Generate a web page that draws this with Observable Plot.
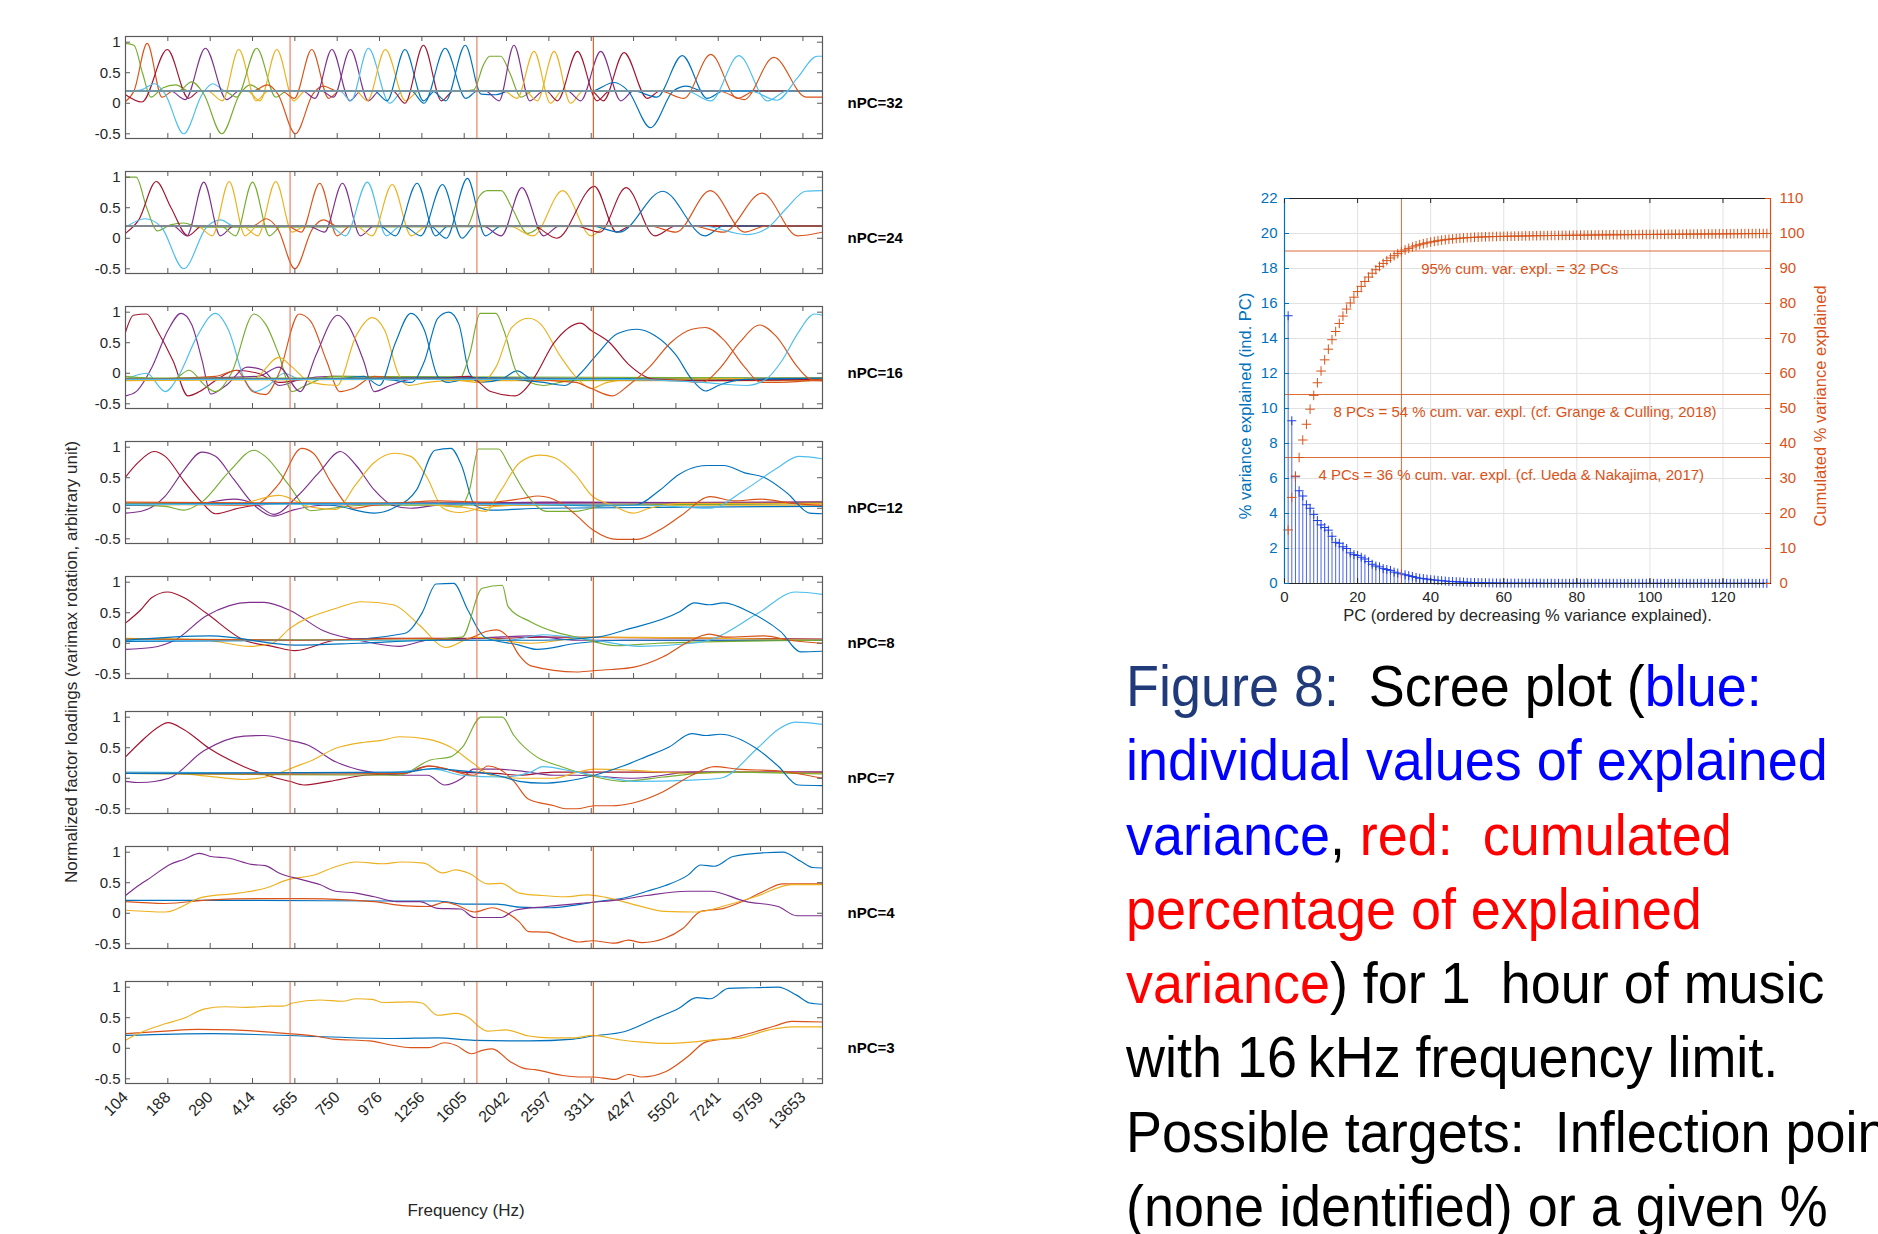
<!DOCTYPE html>
<html><head><meta charset="utf-8">
<script src="https://cdn.jsdelivr.net/npm/d3@7"></script>
<script src="https://cdn.jsdelivr.net/npm/@observablehq/plot@0.6"></script>
<style>
html,body{margin:0;padding:0;background:#fff;}
#root{position:relative;width:1878px;height:1234px;overflow:hidden;background:#fff;font-family:"Liberation Sans",Arial,sans-serif;color:#262626;}
#cap{position:absolute;left:1126px;top:649px;font-size:58px;line-height:74.3px;transform:scaleX(0.93);transform-origin:0 0;white-space:nowrap;color:#000;}
.nv{color:#213b7a}.bl{color:#0000ff}.rd{color:#ff0000}
</style></head><body><div id="root"></div>
<script>
// ---------------- data: left panels ----------------
const freqLabels = ["104","188","290","414","565","750","976","1256","1605","2042","2597","3311","4247","5502","7241","9759","13653"];
const xTicks = [1,9,17,25,33,41,49,57,65,73,81,89,97,105,113,121,129];
const xDomain = [1,132.7];
const yDomain = [-0.577,1.093];
const yTicks = [-0.5,0,0.5,1];
const panelLabels = ["nPC=32","nPC=24","nPC=16","nPC=12","nPC=8","nPC=7","nPC=4","nPC=3"];
const markerPositions = [32.1,67.4,89.4];
const colorNames = ["b","o","y","p","g","c","r"];
const palette = ["#0072BD","#D95319","#EDB120","#7E2F8E","#77AC30","#4DBEEE","#A2142F"];

const p32 = [
["g",[[1,0.98],[2.6,0.95],[4.2,0.5],[5.8,0.1],[8,0.25],[10.5,0.3],[13,0.2],[132.7,0.2]]],
["o",[[1,0.03],[2.6,0.2],[5.1,0.98],[7.9,0.1],[10,0.2],[132.7,0.2]]],
["r",[[1,0.14],[4.1,0.02],[8.9,0.88],[12.9,0.08],[15,0.2],[132.7,0.2]]],
["c",[[1,0.2],[4,0.22],[6.5,0.32],[8.5,0.15],[12,-0.5],[15.5,0.15],[17.5,0.32],[20,0.2],[132.7,0.2]]],
["p",[[1,0.2],[9.5,0.2],[12.3,0.06],[16.1,0.9],[20.1,0.06],[22.5,0.2],[132.7,0.2]]],
["g",[[1,0.2],[11,0.2],[13.5,0.35],[15.8,0.15],[19.2,-0.5],[22.6,0.15],[24.6,0.3],[27,0.2],[132.7,0.2]]],
["y",[[1,0.2],[16.5,0.2],[19.3,0.04],[22.4,0.88],[25.7,0.04],[28,0.2],[132.7,0.2]]],
["g",[[1,0.2],[19.5,0.2],[22,0.1],[25.8,0.9],[29.4,0.1],[31.5,0.2],[132.7,0.2]]],
["y",[[1,0.2],[24,0.2],[26.4,0.04],[29.6,0.88],[32.8,0.04],[35,0.2],[132.7,0.2]]],
["o",[[1,0.2],[25,0.2],[27.8,0.3],[29.8,0.15],[33.1,-0.5],[36.4,0.15],[38.4,0.28],[41,0.2],[132.7,0.2]]],
["o",[[1,0.2],[30.5,0.2],[32.9,0.08],[36.2,0.88],[39.4,0.08],[41.5,0.2],[132.7,0.2]]],
["p",[[1,0.2],[34.5,0.2],[36.8,0.08],[40,0.88],[43.4,0.04],[45.5,0.2],[132.7,0.2]]],
["p",[[1,0.2],[38,0.2],[40.3,0.1],[43.5,0.88],[46.9,0.04],[49,0.2],[132.7,0.2]]],
["c",[[1,0.2],[41.5,0.2],[43.6,0.04],[46.9,0.9],[50.9,0.0],[53.5,0.2],[132.7,0.2]]],
["y",[[1,0.2],[44.5,0.2],[46.7,0.04],[50.1,0.88],[53.9,0.04],[56.5,0.2],[132.7,0.2]]],
["b",[[1,0.2],[48,0.2],[50.4,0.04],[53.8,0.88],[57.3,0.04],[59.5,0.2],[132.7,0.2]]],
["r",[[1,0.2],[51.5,0.2],[53.8,0.0],[57.3,0.95],[60.7,0.04],[63,0.2],[132.7,0.2]]],
["b",[[1,0.2],[55,0.2],[57.4,0.0],[61.4,0.9],[65.3,0.08],[67.5,0.2],[132.7,0.2]]],
["b",[[1,0.2],[59,0.2],[61.5,0.04],[65.2,0.95],[68.2,0.15],[71,0.14],[73.5,0.2],[132.7,0.2]]],
["g",[[1,0.2],[64,0.2],[66.8,0.22],[68.6,0.62],[69.8,0.77],[71.9,0.77],[73.6,0.5],[75.7,0.1],[78,0.2],[132.7,0.2]]],
["p",[[1,0.2],[69,0.2],[71.6,0.04],[74.4,0.95],[77.4,0.04],[80,0.2],[132.7,0.2]]],
["y",[[1,0.2],[72.5,0.2],[75,0.08],[78.2,0.85],[81.3,0.0],[83.5,0.2],[132.7,0.2]]],
["y",[[1,0.2],[76.5,0.2],[78.8,0.04],[82,0.85],[85.1,0.0],[87.5,0.2],[132.7,0.2]]],
["r",[[1,0.2],[80.5,0.2],[82.6,0.04],[86.4,0.85],[90.1,0.04],[92.5,0.2],[132.7,0.2]]],
["p",[[1,0.2],[84.5,0.2],[87,0.04],[90.8,0.85],[94.6,0.04],[97,0.2],[132.7,0.2]]],
["r",[[1,0.2],[89,0.2],[91.3,0.04],[95.2,0.83],[99.6,0.08],[102,0.2],[132.7,0.2]]],
["b",[[1,0.2],[89,0.2],[93.3,0.34],[96,0.2],[100.2,-0.4],[104.5,0.2],[107,0.28],[110,0.2],[132.7,0.2]]],
["b",[[1,0.2],[97,0.2],[101.4,0.1],[106.2,0.78],[110.9,0.08],[114,0.2],[132.7,0.2]]],
["o",[[1,0.2],[102,0.2],[106.5,0.08],[111.6,0.8],[116.6,0.08],[120,0.2],[132.7,0.2]]],
["c",[[1,0.2],[107,0.2],[111.6,0.04],[116.9,0.78],[122.3,0.04],[126,0.2],[132.7,0.2]]],
["o",[[1,0.2],[113,0.2],[117.9,0.06],[123.5,0.75],[129.6,0.1],[132.7,0.1]]],
["c",[[1,0.2],[119,0.2],[124.1,0.05],[128,0.42],[131.7,0.77],[132.7,0.77]]]
];

const p24 = [
["g",[[1,1.0],[3,1.0],[5,0.5],[7,0.12],[9.5,0.22],[12,0.25],[15,0.18],[132.7,0.2]]],
["r",[[1,0.08],[3.5,0.3],[6.8,0.93],[9.6,0.5],[12.8,0.04],[15.5,0.2],[132.7,0.2]]],
["c",[[1,0.18],[4.7,0.32],[7.8,0.18],[12,-0.5],[16.3,0.18],[19,0.3],[21.5,0.2],[132.7,0.2]]],
["p",[[1,0.2],[10,0.2],[12.6,0.04],[15.8,0.92],[18.9,0.04],[21.5,0.2],[132.7,0.2]]],
["y",[[1,0.2],[14.5,0.2],[17.4,0.04],[20.6,0.93],[23.6,0.04],[26,0.2],[132.7,0.2]]],
["g",[[1,0.2],[19,0.2],[21.8,0.04],[25,0.92],[28.2,0.04],[30.5,0.2],[132.7,0.2]]],
["y",[[1,0.2],[23,0.2],[26,0.04],[29.4,0.93],[32.5,0.1],[35,0.2],[132.7,0.2]]],
["o",[[1,0.2],[25,0.2],[27.6,0.32],[29.8,0.15],[33,-0.5],[36.3,0.15],[38.4,0.3],[41,0.2],[132.7,0.2]]],
["o",[[1,0.2],[31.5,0.2],[34.2,0.1],[37.7,0.9],[41,0.04],[43.5,0.2],[132.7,0.2]]],
["p",[[1,0.2],[35.5,0.2],[38.6,0.1],[42,0.9],[45.4,0.04],[48,0.2],[132.7,0.2]]],
["c",[[1,0.2],[39.5,0.2],[42.6,0.04],[46.7,0.92],[50.3,0.04],[53,0.2],[132.7,0.2]]],
["y",[[1,0.2],[44.5,0.2],[47.6,0.04],[51.4,0.88],[55,0.04],[58,0.2],[132.7,0.2]]],
["b",[[1,0.2],[49,0.2],[52,0.04],[56.1,0.9],[59.6,0.04],[62,0.2],[132.7,0.2]]],
["b",[[1,0.2],[53.5,0.2],[56.8,0.04],[60.9,0.88],[64.6,0.0],[67,0.2],[132.7,0.2]]],
["b",[[1,0.2],[58.5,0.2],[61.6,0.0],[65.6,0.98],[69,0.04],[72,0.2],[132.7,0.2]]],
["g",[[1,0.2],[62,0.2],[65.5,0.2],[67.8,0.68],[69.4,0.78],[72,0.78],[74,0.5],[77,0.08],[80,0.2],[132.7,0.2]]],
["p",[[1,0.2],[68.5,0.2],[72,0.04],[75.9,0.83],[80,0.04],[83,0.2],[132.7,0.2]]],
["y",[[1,0.2],[73.5,0.2],[78,0.04],[83.6,0.78],[89,0.04],[92,0.2],[132.7,0.2]]],
["r",[[1,0.2],[78,0.2],[82.5,0.0],[89.6,0.85],[93.8,0.1],[96.5,0.2],[132.7,0.2]]],
["r",[[1,0.2],[86,0.2],[90.6,0.1],[95.6,0.83],[101,0.04],[105,0.2],[132.7,0.2]]],
["b",[[1,0.2],[89,0.2],[94.3,0.1],[102.5,0.77],[110.5,0.04],[114,0.2],[132.7,0.2]]],
["o",[[1,0.2],[100,0.2],[105,0.1],[111.5,0.78],[118,0.1],[122,0.2],[132.7,0.2]]],
["o",[[1,0.2],[108,0.2],[114,0.1],[121.3,0.74],[128,0.04],[132.7,0.1]]],
["c",[[1,0.2],[110,0.2],[118.3,0.06],[122,0.15],[126,0.5],[129.5,0.77],[132.7,0.78]]]
];

const p16 = [
["r",[[1,0.67],[2.5,0.95],[5,0.97],[7,0.7],[10,0.2],[12.8,-0.37],[15,-0.3],[18,-0.12],[22,0.05],[26,0.0],[30,-0.15],[35,-0.1],[132.7,-0.1]]],
["p",[[1,-0.37],[3,-0.3],[6,0.1],[9,0.7],[11.5,0.98],[13.5,0.8],[15.5,0.2],[17.1,-0.34],[20,-0.2],[24,0.1],[27,0.05],[30,-0.2],[34,-0.1],[40,-0.05],[132.7,-0.12]]],
["c",[[1,-0.1],[5,0.0],[8.5,-0.3],[11,-0.05],[14.5,0.6],[18,0.98],[20.5,0.7],[23.5,-0.1],[25.5,-0.3],[28,-0.2],[31,0.0],[34,-0.1],[132.7,-0.1]]],
["g",[[1,-0.05],[10,-0.1],[13,0.05],[16,-0.2],[18,-0.3],[21,0.0],[25.3,0.97],[27.5,0.8],[30,0.3],[32.5,-0.3],[35,-0.2],[40,-0.05],[132.7,-0.08]]],
["o",[[1,-0.1],[18,-0.05],[22,0.05],[25,-0.3],[27.5,-0.35],[30,0.0],[33.8,0.97],[36,0.85],[39,0.2],[41.5,-0.3],[44,-0.25],[48,-0.05],[55,-0.1],[132.7,-0.1]]],
["p",[[1,-0.1],[26,-0.05],[30,0.1],[34,-0.3],[37,0.3],[41.1,0.95],[43,0.8],[46,0.2],[48,-0.3],[51,-0.2],[55,-0.1],[132.7,-0.1]]],
["y",[[1,-0.1],[25,-0.1],[30,0.26],[32.5,0.1],[36,-0.15],[41,-0.2],[44.5,0.6],[47.6,0.91],[50,0.7],[52.5,0.0],[54.5,-0.2],[58,-0.15],[62,-0.12],[132.7,-0.12]]],
["b",[[1,-0.1],[40,-0.1],[46,-0.05],[49,-0.2],[52,0.5],[54.9,0.98],[57.5,0.7],[60,-0.05],[62,-0.15],[66,-0.08],[132.7,-0.1]]],
["b",[[1,-0.1],[50,-0.1],[55,-0.15],[57.5,0.2],[60,0.9],[62.1,1.0],[64,0.8],[66,0.0],[68,-0.15],[72,-0.1],[75,0.04],[78,-0.1],[132.7,-0.08]]],
["g",[[1,-0.08],[60,-0.08],[64,-0.1],[66,0.3],[68,0.98],[71,0.98],[72.5,0.7],[75,0.0],[77.5,-0.15],[80,-0.2],[85,-0.12],[132.7,-0.08]]],
["y",[[1,-0.12],[62,-0.1],[68,-0.15],[71,0.1],[74,0.75],[77.2,0.9],[79.5,0.8],[83,0.3],[86,-0.05],[89,-0.25],[92,-0.15],[97,-0.1],[132.7,-0.08]]],
["r",[[1,-0.1],[60,-0.08],[66,-0.05],[70,-0.3],[74.6,-0.37],[78,-0.1],[82,0.5],[87,0.82],[89,0.7],[92.5,0.5],[96,0.15],[101,-0.1],[110,-0.12],[132.7,-0.1]]],
["b",[[1,-0.1],[70,-0.08],[80,-0.15],[84,-0.2],[87,0.0],[90,0.3],[94,0.65],[97.7,0.72],[101,0.62],[105,0.3],[108,-0.1],[110.6,-0.29],[113,-0.2],[118,-0.1],[132.7,-0.08]]],
["o",[[1,-0.1],[75,-0.1],[86,-0.15],[89,-0.25],[93,-0.37],[96,-0.2],[100,0.1],[104,0.5],[108,0.72],[110.6,0.75],[114,0.55],[118,0.1],[121,-0.15],[124.5,-0.15],[132.7,-0.1]]],
["o",[[1,-0.1],[90,-0.1],[105,-0.12],[110,-0.15],[113,0.05],[117,0.5],[120.9,0.79],[124,0.6],[128,0.1],[130.5,-0.1],[132.7,-0.12]]],
["c",[[1,-0.1],[95,-0.1],[110,-0.15],[118.3,-0.2],[122,-0.1],[125,0.2],[128,0.65],[131.2,0.97],[132.7,0.95]]]
];

const p12 = [
["r",[[1,0.51],[3.4,0.75],[6.4,0.93],[8.5,0.85],[12,0.45],[15.4,0.1],[18,-0.09],[22.3,0.0],[25.7,0.05],[32,0.08],[132.7,0.1]]],
["p",[[1,-0.08],[4,-0.05],[8.5,0.2],[12,0.62],[15.4,0.92],[18,0.85],[21.4,0.48],[25.7,0.02],[29,-0.13],[32.6,-0.03],[38,0.05],[60,0.08],[132.7,0.1]]],
["g",[[1,0.05],[8.5,0.03],[12,-0.03],[15.4,0.1],[20.6,0.6],[25.3,0.95],[27.4,0.85],[31.7,0.4],[36,-0.04],[40,0.0],[46,0.05],[60,0.05],[132.7,0.08]]],
["o",[[1,0.08],[25,0.05],[30,0.4],[34.3,0.98],[36.5,0.9],[40,0.4],[44,0.0],[48,0.05],[56,0.08],[62,0.08],[70,0.05],[132.7,0.08]]],
["p",[[1,0.05],[15,0.08],[21.4,0.15],[26,0.05],[29,-0.1],[33.5,0.2],[37.7,0.6],[41.6,0.93],[44.6,0.7],[48,0.3],[51.4,0.05],[54.9,0.0],[60,0.05],[80,0.1],[132.7,0.08]]],
["y",[[1,0.05],[22,0.07],[30,0.21],[36,0.02],[40.7,-0.02],[44.6,0.4],[48,0.75],[51.9,0.9],[54.9,0.85],[58,0.5],[61,0.0],[64,-0.07],[68,0.0],[75,0.05],[132.7,0.05]]],
["b",[[1,0.05],[30,0.08],[40,0.05],[48,-0.08],[52,0.02],[56,0.3],[59.5,0.95],[62.5,0.98],[64.5,0.7],[67,0.05],[70,-0.03],[80,0.0],[132.7,0.03]]],
["g",[[1,0.07],[50,0.08],[60,0.05],[64,0.02],[66,0.3],[67.7,0.97],[71.5,0.97],[73.5,0.7],[77,0.2],[80.6,-0.05],[86,-0.05],[92,0.05],[132.7,0.08]]],
["y",[[1,0.08],[50,0.08],[60,0.05],[66,0.0],[69,-0.05],[72,0.3],[75.5,0.75],[79.3,0.87],[82,0.83],[86,0.55],[89.2,0.2],[93,0.05],[96.9,-0.08],[100,0.0],[106,0.08],[132.7,0.08]]],
["o",[[1,0.1],[50,0.08],[60,0.12],[70,0.1],[76,0.16],[79,0.2],[83,0.1],[86,-0.1],[89.4,-0.36],[93.9,-0.51],[97.7,-0.51],[102,-0.35],[106,-0.12],[111.5,0.19],[116,0.12],[121,0.15],[127,0.08],[132.7,0.05]]],
["b",[[1,0.07],[60,0.08],[80,0.06],[90,0.04],[97.3,0.05],[102,0.3],[105.5,0.55],[108.9,0.68],[111,0.7],[114,0.7],[118,0.58],[121.8,0.5],[126,0.25],[130.3,-0.08],[132.7,-0.09]]],
["c",[[1,0.06],[60,0.07],[80,0.06],[100,0.05],[111.5,0.0],[118,0.3],[124,0.65],[128.2,0.85],[132.7,0.81]]]
];

const p8 = [
["r",[[1,0.33],[3.8,0.54],[6,0.75],[9,0.84],[12,0.75],[16.3,0.49],[23.4,0.05],[28.8,-0.05],[33.1,-0.12],[40.7,0.05],[48.3,0.08],[70,0.08],[80,0.1],[132.7,0.07]]],
["p",[[1,-0.1],[6,-0.07],[10.3,0.05],[16.3,0.45],[24.4,0.67],[27.2,0.67],[32,0.54],[38.5,0.2],[45.1,0.05],[52.7,-0.05],[58.1,0.05],[65,0.07],[71,0.1],[77.6,0.12],[86.3,0.05],[132.7,0.05]]],
["y",[[1,0.08],[16.3,0.05],[24.4,-0.05],[28.8,0.0],[32,0.24],[40.7,0.57],[45.6,0.68],[51.6,0.63],[56.5,0.3],[61.6,-0.07],[66.8,0.1],[77.6,0.0],[88.5,0.1],[132.7,0.05]]],
["b",[[1,0.03],[40,0.05],[53.7,0.16],[57,0.49],[59.7,0.97],[63,0.98],[65.7,0.54],[68.9,0.1],[75.4,-0.03],[78.7,-0.1],[86.3,0.0],[95,0.05],[132.7,0.05]]],
["g",[[1,0.07],[53.7,0.05],[64.6,0.1],[68.4,0.9],[72.2,0.95],[73.3,0.6],[77.6,0.35],[82,0.19],[86.3,0.1],[93.9,-0.04],[101.5,0.0],[132.7,0.05]]],
["c",[[1,0.05],[64.6,0.05],[73.3,0.05],[79.8,0.14],[89.6,0.05],[98.2,-0.05],[108,0.0],[111.3,0.05],[120.5,0.49],[127.6,0.84],[132.7,0.8]]],
["o",[[1,0.07],[33.1,0.05],[58.1,0.08],[64.6,0.05],[69.5,0.2],[71.1,0.22],[73.3,0.1],[75.4,-0.2],[77.6,-0.37],[86.3,-0.47],[89.3,-0.45],[92.8,-0.43],[97.1,-0.39],[102.6,-0.22],[106.9,0.0],[111.3,0.15],[114.5,0.1],[121.6,0.12],[126.5,0.05],[132.7,0.0]]],
["b",[[1,0.05],[17.1,0.12],[33.1,-0.03],[45.1,0.0],[60,0.05],[80,0.05],[90.1,0.1],[95.5,0.22],[105.8,0.52],[108.5,0.66],[111.3,0.63],[114,0.66],[119.4,0.49],[124.8,0.19],[128.6,-0.14],[132.7,-0.13]]]
];

const p7 = [
["r",[[1,0.35],[3.8,0.59],[7.6,0.86],[9,0.91],[12,0.8],[16.8,0.49],[23.4,0.19],[27.7,0.05],[32,-0.05],[34.7,-0.11],[39.6,-0.05],[46.1,0.05],[53.7,0.08],[58.1,0.2],[64.6,0.1],[71.1,0.08],[75.4,0.05],[82,0.1],[132.7,0.1]]],
["p",[[1,-0.05],[3.8,-0.07],[9.2,0.0],[15.8,0.45],[23.4,0.69],[27.2,0.7],[32,0.62],[35.3,0.55],[40.7,0.27],[46.1,0.12],[53.7,0.05],[58.1,0.05],[61.3,-0.11],[64.6,0.0],[66.8,0.15],[71.1,0.15],[75.4,0.12],[82,0.05],[86.3,0.05],[97.1,0.0],[108,0.1],[118.9,0.1],[132.7,0.1]]],
["y",[[1,0.08],[10.3,0.08],[16.8,0.03],[23.4,-0.02],[28.8,0.05],[33.1,0.19],[36.4,0.3],[40.7,0.49],[46.1,0.59],[49.4,0.62],[52.7,0.68],[58.1,0.64],[62.4,0.51],[66.8,0.24],[70,0.05],[75.4,0.0],[82,0.0],[86.3,0.1],[89.6,0.15],[97.1,0.13],[108,0.08],[118.9,0.1],[132.7,0.08]]],
["g",[[1,0.08],[27.7,0.06],[52.7,0.05],[58.6,0.3],[62.4,0.35],[64.6,0.5],[68.2,1.0],[72.2,1.0],[74.4,0.7],[78.7,0.35],[83,0.2],[88.5,0.05],[95,-0.05],[102.6,0.02],[113.4,0.1],[132.7,0.07]]],
["c",[[1,0.1],[48.3,0.08],[59.2,0.15],[64.6,0.05],[72.2,0.02],[77.6,0.1],[79.8,0.19],[86.3,0.1],[92.8,0.0],[97.1,-0.05],[108,-0.03],[113.4,0.0],[120.5,0.5],[124.3,0.8],[127.6,0.92],[132.7,0.88]]],
["o",[[1,0.08],[40.7,0.07],[53.7,0.08],[58.6,0.2],[66.8,0.05],[69.5,0.2],[71.6,0.15],[74.4,-0.05],[77.1,-0.34],[82,-0.45],[84.1,-0.5],[86.3,-0.5],[89.6,-0.45],[92.8,-0.45],[97.1,-0.4],[102.6,-0.22],[108,0.05],[112.3,0.19],[116.7,0.15],[124.3,0.12],[129.7,0.05],[132.7,0.0]]],
["b",[[1,0.08],[53.7,0.1],[59.2,0.16],[64.6,0.12],[71.1,0.05],[75.4,-0.05],[79.8,-0.08],[84.1,-0.05],[89.6,0.05],[95,0.2],[99.3,0.35],[103.7,0.51],[108,0.73],[110.7,0.7],[113.4,0.72],[120,0.5],[124.3,0.2],[128.1,-0.11],[132.7,-0.12]]]
];

const p4 = [
["b",[[1,0.21],[25.7,0.21],[51.4,0.2],[60,0.2],[65.2,0.15],[71.2,0.15],[75.4,0.1],[81.4,0.09],[85.7,0.13],[90.9,0.2],[95.2,0.25],[99.5,0.36],[102.9,0.45],[107.2,0.62],[109.7,0.79],[112.3,0.77],[115.8,0.93],[121.8,0.99],[125.2,1.0],[128.6,0.85],[130.8,0.75],[132.7,0.74]]],
["o",[[1,0.19],[8.5,0.16],[17.1,0.22],[25.7,0.24],[34.3,0.24],[42.9,0.22],[48,0.19],[54,0.12],[58.3,0.11],[61.3,0.18],[63.4,0.14],[66.9,0.02],[70.3,0.09],[72,0.05],[75.4,-0.14],[77.2,-0.3],[80.6,-0.31],[84,-0.41],[86.6,-0.47],[89.2,-0.45],[93.5,-0.49],[96,-0.44],[98.6,-0.48],[102.9,-0.41],[106.3,-0.25],[109.7,0.03],[114,0.08],[118.3,0.22],[121.8,0.37],[125.2,0.48],[132.7,0.48]]],
["y",[[1,0.05],[8.5,0.02],[15.4,0.26],[22.3,0.33],[27.4,0.41],[31.7,0.55],[36.8,0.63],[40.3,0.75],[44.6,0.84],[49.7,0.81],[53.1,0.84],[57.4,0.82],[60.9,0.66],[63.4,0.71],[66,0.65],[69.4,0.48],[72,0.49],[75.4,0.33],[79.7,0.29],[84,0.27],[88.3,0.3],[91.7,0.26],[97.7,0.13],[102.9,0.03],[108.9,0.02],[114.9,0.14],[120,0.27],[126.9,0.47],[132.7,0.47]]],
["p",[[1,0.29],[3.4,0.45],[6,0.6],[9.4,0.8],[12,0.88],[15,0.98],[17.1,0.93],[20.6,0.9],[24.8,0.8],[27.4,0.78],[30,0.66],[34.3,0.55],[37.7,0.47],[40.7,0.36],[44.6,0.33],[48,0.27],[52.3,0.19],[56.6,0.19],[60,0.08],[64.3,0.07],[66.9,-0.07],[72,-0.07],[74.6,0.05],[80.6,0.11],[89.2,0.18],[94.3,0.22],[99.5,0.29],[107.2,0.36],[111.5,0.36],[118.3,0.19],[124.3,0.11],[127.8,-0.04],[132.7,-0.04]]]
];

const p3 = [
["b",[[1,0.21],[17.1,0.24],[34.3,0.2],[51.4,0.16],[60,0.17],[66.9,0.13],[77.2,0.12],[85.7,0.15],[89.2,0.2],[95.2,0.27],[101.2,0.49],[105.5,0.65],[108.9,0.83],[111.5,0.81],[114.9,0.98],[119.2,0.99],[124.3,1.0],[127.8,0.87],[130.3,0.74],[132.7,0.72]]],
["o",[[1,0.24],[8.5,0.28],[14.6,0.31],[21.4,0.3],[25.7,0.28],[31.7,0.24],[36.8,0.2],[40.3,0.15],[47.1,0.12],[51.4,0.05],[54.9,0.01],[58.3,0.01],[61.3,0.09],[63.4,0.05],[66.4,-0.09],[68.6,-0.03],[70.3,-0.01],[73.7,-0.22],[76.3,-0.33],[78.4,-0.35],[83.2,-0.44],[86.6,-0.47],[89.2,-0.47],[93.5,-0.51],[96,-0.43],[98.6,-0.47],[102.9,-0.39],[107.2,-0.14],[110.6,0.1],[115.8,0.17],[120,0.27],[123.5,0.36],[126.9,0.44],[132.7,0.43]]],
["y",[[1,0.13],[3.4,0.24],[8.5,0.4],[12,0.49],[15.8,0.64],[19.7,0.68],[24,0.67],[28.3,0.69],[30.8,0.69],[32.6,0.74],[37.7,0.79],[42,0.77],[44.6,0.81],[47.6,0.8],[49.7,0.75],[54.9,0.76],[57,0.74],[60,0.54],[63.4,0.57],[66,0.49],[67.7,0.36],[69.4,0.28],[72.9,0.3],[77.2,0.2],[81.4,0.17],[85.7,0.17],[89.2,0.21],[94.3,0.14],[98.6,0.1],[102.9,0.08],[108,0.1],[113.2,0.15],[116.6,0.16],[122.6,0.3],[126.9,0.35],[132.7,0.35]]]
];

// ---------------- data: scree plot ----------------
const varExplained = [
15.3,9.3,6.1,5.3,5.0,4.5,4.3,3.95,
3.6,3.35,3.2,3.05,2.7,2.35,2.3,2.1,
2.0,1.75,1.65,1.6,1.5,1.4,1.25,1.1,
1.0,0.95,0.85,0.8,0.75,0.65,0.6,0.55,
0.5,0.45,0.4,0.35,0.3,0.28,0.25,0.22,
0.2,0.18,0.16,0.14,0.12,0.11,0.1,0.09,0.08,0.07,
0.06,0.055,0.05,0.045,0.04,0.035,0.03,0.027,0.025,0.022,
0.02,0.02,0.02,0.02,0.02,0.02,0.02,0.02,0.02,0.02,
0.012,0.012,0.012,0.012,0.012,0.012,0.012,0.012,0.012,0.012,
0.012,0.012,0.012,0.012,0.012,0.012,0.012,0.012,0.012,0.012,
0.009,0.009,0.009,0.009,0.009,0.009,0.009,0.009,0.009,0.009,
0.009,0.009,0.009,0.009,0.009,0.009,0.009,0.009,0.009,0.009,
0.009,0.009,0.009,0.009,0.009,0.009,0.009,0.009,0.009,0.009,
0.009,0.009,0.009,0.009,0.009,0.009,0.009,0.009,0.009,0.009,
0.009,0.009
];
const screeXDomain = [0,133];
const screeXTicks = [0,20,40,60,80,100,120];
const screeYLeftTicks = [0,2,4,6,8,10,12,14,16,18,20,22];
const screeYRightTicks = [0,10,20,30,40,50,60,70,80,90,100,110];
const thresholdPCs = [32];
const thresholdCum = [95,54,36];
const annotations = [
  {pc:37.4, cum:95, label:"95% cum. var. expl. = 32 PCs"},
  {pc:13.4, cum:54, label:"8 PCs = 54 % cum. var. expl. (cf. Grange & Culling, 2018)"},
  {pc:9.3, cum:36, label:"4 PCs = 36 % cum. var. expl. (cf. Ueda & Nakajima, 2017)"}
];

// ---------------- rendering ----------------
const FONT = '"Liberation Sans", Arial, Helvetica, sans-serif';
const root = document.getElementById("root");
function place(el, left, top){ el.style.position="absolute"; el.style.left=left+"px"; el.style.top=top+"px"; root.appendChild(el); return el; }

const panels = [p32,p24,p16,p12,p8,p7,p4,p3];
const PW = 960, ML = 125, MR = 138, PH = 102, PAD = 6;
const innerW = PW - ML - MR;
const axisGray = "#5a5a5a";

panels.forEach((curves, i) => {
  const bottom = i === panels.length - 1;
  const rows = [];
  curves.forEach(([col, pts], k) => pts.forEach(([x, y]) => rows.push({id: k, col, x, y})));
  const mb = bottom ? 100 : PAD;
  const marks = [
    Plot.line(rows, {x: "x", y: "y", z: "id", stroke: "col", curve: "monotone-x", strokeWidth: 1.15, clip: true}),
    Plot.ruleX(markerPositions.slice(0, 2), {stroke: "#E2704A", strokeWidth: 1.2, strokeOpacity: 0.85}),
    Plot.ruleX(markerPositions.slice(2), {stroke: "#D95319", strokeWidth: 1.1}),
    Plot.frame({stroke: axisGray, strokeWidth: 1.2}),
    Plot.tickX(xTicks, {x: d => d, insetTop: PH - 5, stroke: axisGray}),
    Plot.tickX(xTicks, {x: d => d, insetBottom: PH - 5, stroke: axisGray}),
    Plot.tickY(yTicks, {y: d => d, insetRight: innerW - 5, stroke: axisGray}),
    Plot.tickY(yTicks, {y: d => d, insetLeft: innerW - 5, stroke: axisGray}),
    Plot.axisY(yTicks, {tickSize: 0, tickPadding: 5, tickFormat: d => String(d), fontSize: 15, fill: "#262626", label: null}),
    Plot.text([panelLabels[i]], {text: d => d, y: [0], frameAnchor: "right", dx: 25, textAnchor: "start", fontWeight: "bold", fontSize: 15, fill: "#000"})
  ];
  if (bottom) marks.push(Plot.axisX(xTicks, {anchor: "bottom", tickSize: 0, tickPadding: 11, tickRotate: -45, fontSize: 16, fill: "#262626", label: null, tickFormat: d => freqLabels[xTicks.indexOf(d)]}));
  const chart = Plot.plot({
    width: PW, height: PH + PAD + mb,
    marginLeft: ML, marginRight: MR, marginTop: PAD, marginBottom: mb,
    x: {domain: xDomain, axis: null},
    y: {domain: yDomain, axis: null},
    color: {type: "ordinal", domain: colorNames, range: palette},
    style: {fontFamily: FONT, fontSize: "13px", background: "transparent", overflow: "visible"},
    marks
  });
  place(chart, 0, 36 + 135 * i - PAD);
});

// axis titles of the left figure
const ylab = document.createElement("div");
ylab.textContent = "Normalized factor loadings (varimax rotation, arbitrary unit)";
ylab.style.cssText = `font-size:17px;font-family:${FONT};white-space:nowrap;transform:translate(-50%,-50%) rotate(-90deg);color:#262626;`;
place(ylab, 72, 662);
const xlab = document.createElement("div");
xlab.textContent = "Frequency (Hz)";
xlab.style.cssText = `font-size:17px;font-family:${FONT};white-space:nowrap;transform:translate(-50%,-50%);color:#262626;`;
place(xlab, 466, 1211);

// scree plot
const SW = 678, SH = 480, SML = 84, SMR = 108, SMT = 38, SMB = 57;
const sInW = SW - SML - SMR, sInH = SH - SMT - SMB;
const cum = d3.cumsum(varExplained);
const srows = varExplained.map((v, i) => ({pc: i + 1, v, c: cum[i]}));
const blue = "#0072BD", blueStem = "#1f3fe8", orange = "#D95319";
const scree = Plot.plot({
  width: SW, height: SH, marginLeft: SML, marginRight: SMR, marginTop: SMT, marginBottom: SMB,
  x: {domain: screeXDomain, axis: null},
  y: {domain: [0, 22], axis: null},
  style: {fontFamily: FONT, fontSize: "13px", background: "transparent", overflow: "visible"},
  marks: [
    Plot.ruleX(screeXTicks.slice(1), {stroke: "#e2e2e2"}),
    Plot.ruleY(screeYLeftTicks.slice(1), {stroke: "#e2e2e2"}),
    Plot.ruleX(srows, {x: "pc", y1: 0, y2: "v", stroke: blueStem, strokeWidth: 1, strokeOpacity: 0.8}),
    Plot.dot(srows, {x: "pc", y: "v", symbol: "plus", r: 3, stroke: blueStem, strokeWidth: 1}),
    Plot.ruleY(thresholdCum, {y: d => d / 5, stroke: orange, strokeWidth: 1.2, strokeOpacity: 0.85}),
    Plot.ruleX(thresholdPCs, {stroke: orange, strokeWidth: 1, strokeOpacity: 0.85}),
    Plot.dot(srows, {x: "pc", y: d => d.c / 5, symbol: "plus", r: 3.2, stroke: orange, strokeWidth: 1}),
    Plot.text(annotations, {x: "pc", y: d => d.cum / 5, text: "label", dy: 18, textAnchor: "start", fill: orange, fontSize: 15}),
    Plot.frame({stroke: "#262626", strokeWidth: 1}),
    Plot.ruleX([screeXDomain[0]], {stroke: blue, strokeWidth: 1.2}),
    Plot.ruleX([screeXDomain[1]], {stroke: orange, strokeWidth: 1.2}),
    Plot.tickX(screeXTicks, {x: d => d, insetTop: sInH - 5, stroke: "#262626"}),
    Plot.tickX(screeXTicks, {x: d => d, insetBottom: sInH - 5, stroke: "#262626"}),
    Plot.tickY(screeYLeftTicks, {y: d => d, insetRight: sInW - 5, stroke: blue}),
    Plot.tickY(screeYLeftTicks, {y: d => d, insetLeft: sInW - 5, stroke: orange}),
    Plot.axisX(screeXTicks, {anchor: "bottom", tickSize: 0, tickPadding: 8, fontSize: 15, fill: "#262626", label: null}),
    Plot.axisY(screeYLeftTicks, {anchor: "left", tickSize: 0, tickPadding: 7, fontSize: 15, fill: blue, label: null}),
    Plot.axisY(screeYRightTicks.map(d => d / 5), {anchor: "right", tickSize: 0, tickPadding: 9, fontSize: 15, fill: orange, label: null, tickFormat: d => String(Math.round(d * 5))}),
    Plot.text(["% variance explained (ind. PC)"], {text: d => d, frameAnchor: "left", textAnchor: "middle", dx: -39, dy: 15, rotate: -90, fill: blue, fontSize: 16.5}),
    Plot.text(["Cumulated % variance explained"], {text: d => d, frameAnchor: "right", textAnchor: "middle", dx: 50, dy: 15, rotate: -90, fill: orange, fontSize: 16.5}),
    Plot.text(["PC (ordered by decreasing % variance explained)."], {text: d => d, frameAnchor: "bottom", textAnchor: "middle", dy: 37, fill: "#262626", fontSize: 16.5})
  ]
});
place(scree, 1200, 160);

// caption
const cap = document.createElement("div");
cap.id = "cap";
cap.innerHTML = [
  '<span class="nv">Figure 8:</span>&nbsp; Scree plot (<span class="bl">blue:</span>',
  '<span class="bl">individual values of explained</span>',
  '<span class="bl">variance</span>, <span class="rd">red:&nbsp; cumulated</span>',
  '<span class="rd">percentage of explained</span>',
  '<span class="rd">variance</span>) for 1&nbsp; hour of music',
  'with 16&#8201;kHz frequency limit.',
  'Possible targets:&nbsp; Inflection points',
  '(none identified) or a given %'
].map(s => `<div>${s}</div>`).join("");
root.appendChild(cap);
</script>
</body></html>
